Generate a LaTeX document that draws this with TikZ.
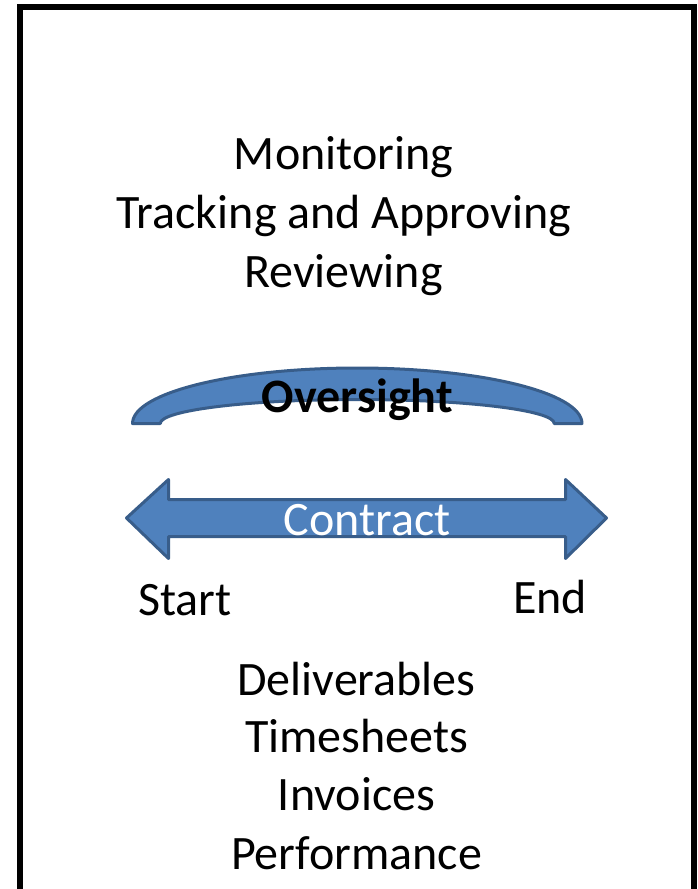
\documentclass[tikz,border=0pt]{standalone}
\usepackage{fontspec}
\setmainfont{Carlito}
\definecolor{shapeblue}{HTML}{4F81BD}
\definecolor{shapeedge}{HTML}{385D8A}
\begin{document}
\begin{tikzpicture}[x=1pt,y=1pt,
  txt/.style={font=\fontsize{48}{58}\selectfont, inner sep=0pt, anchor=base},
  blockshape/.style={fill=shapeblue, draw=shapeedge, line width=3pt, line join=round}]
\useasboundingbox (0,0) rectangle (697,-889);
\clip (0,0) rectangle (697,-889);

% outer frame, open at the bottom edge of the page
\draw[line width=6pt] (20,-900) -- (20,-7) -- (693.5,-7) -- (693.5,-900);

% activities above the timeline
\node[txt] (mon) at (343.5,-169) {Monitoring};
\node[txt] (trk) at (344,-228) {Tracking and Approving};
\node[txt] (rev) at (343.5,-287) {Reviewing};

% oversight block arc
\path[blockshape] (132.5,-423.5)
  arc[start angle=180,end angle=0,x radius=224.75,y radius=55.5]
  -- (554.25,-423.5)
  arc[start angle=0,end angle=180,x radius=197,y radius=24]
  -- cycle;
\node[txt, font=\fontsize{48}{58}\selectfont\bfseries] (ovs) at (357.4,-412) {Oversight};

% contract double arrow
\path[blockshape] (126.5,-518) -- (168.5,-479.5) -- (168.5,-499.5) -- (565.5,-499.5)
  -- (565.5,-479.5) -- (606.5,-518) -- (565.5,-558.5) -- (565.5,-536.5)
  -- (168.5,-536.5) -- (168.5,-558.5) -- cycle;
\node[txt, text=white] (con) at (367,-535) {Contract};

% ends of the timeline
\node[txt] (start) at (185,-615) {Start};
\node[txt] (end) at (550,-613) {End};

% items below the timeline
\node[txt] (del) at (356.5,-695) {Deliverables};
\node[txt] (tim) at (356.5,-752) {Timesheets};
\node[txt] (inv) at (356.5,-810) {Invoices};
\node[txt] (per) at (356.5,-869) {Performance};
\end{tikzpicture}
\end{document}
